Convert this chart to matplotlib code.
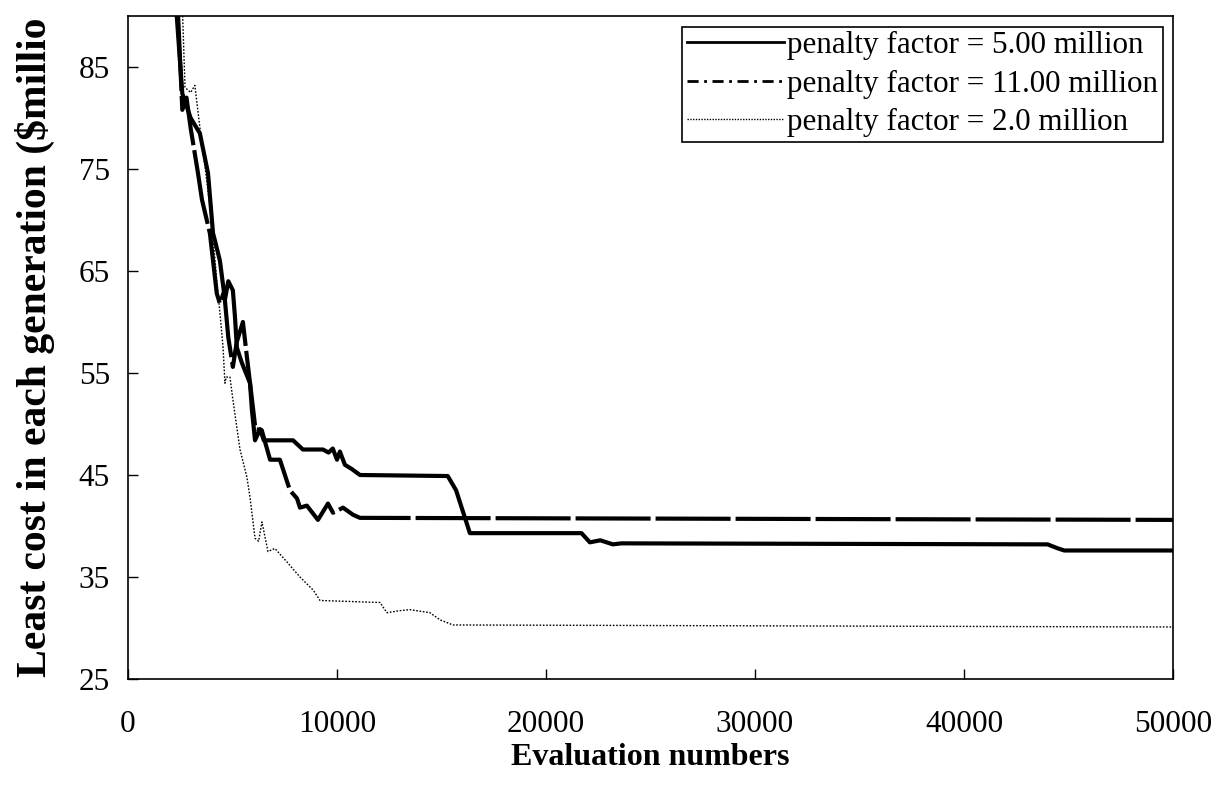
import matplotlib
matplotlib.use("Agg")
import matplotlib.pyplot as plt
from matplotlib.lines import Line2D

# 数据
x_5m = [2300, 2600, 3000, 3440, 3830, 4070, 4160, 4400, 4640, 4800, 5020, 5120, 5210, 5450,
        5840, 5930, 6080, 6320, 6500, 7900, 8370, 9330, 9600, 9800, 10000, 10140, 10380,
        10700, 11100, 15300, 15700, 16360, 17000, 21700, 22100, 22600, 23200, 23600,
        44000, 44500, 44800, 50000]
y_5m = [91, 82.4, 80, 78.5, 74.6, 68.7, 68, 66, 62.2, 64, 63.1, 60.5, 57.5, 56,
        54, 51.4, 48.4, 49.5, 48.4, 48.4, 47.5, 47.5, 47.2, 47.6, 46.5, 47.3, 46.0,
        45.6, 45.0, 44.9, 43.5, 39.3, 39.3, 39.3, 38.4, 38.6, 38.2, 38.3,
        38.2, 37.8, 37.6, 37.6]

x_11m = [2400, 2600, 2800, 3000, 3350, 3540, 3920, 4250, 4400, 4600, 4800, 5020, 5200,
         5500, 5690, 5900, 6100, 6400, 6800, 7270, 7750, 8090, 8230, 8560, 9090, 9570,
         9810, 10290, 10770, 11100, 50000]
y_11m = [90, 80.8, 82, 79, 74.6, 72, 68.7, 62.8, 61.8, 63, 58.5, 55.6, 58,
         60, 56.6, 53, 49.5, 49.4, 46.5, 46.5, 43.5, 42.7, 41.8, 42.0, 40.6, 42.2,
         41.3, 41.8, 41.1, 40.8, 40.6]

x_2m = [2600, 2730, 3000, 3200, 3440, 3700, 4000, 4260, 4400, 4550, 4640, 4700, 4880,
        5020, 5360, 5690, 5840, 6080, 6250, 6410, 6700, 7030, 7510, 8230, 8870, 9190,
        12060, 12390, 13000, 13490, 14450, 14930, 15550, 50000]
y_2m = [91, 83, 82.5, 83.2, 79.1, 75, 70, 63.8, 60.9, 57.5, 54.0, 54.6, 54.6,
        52.4, 47.5, 44.8, 42.8, 38.8, 38.5, 40.4, 37.5, 37.8, 36.7, 35.0, 33.7, 32.7,
        32.5, 31.5, 31.7, 31.8, 31.5, 30.8, 30.3, 30.1]

labels = ["penalty factor = 5.00 million",
          "penalty factor = 11.00 million",
          "penalty factor = 2.0 million"]
xticks = [0, 10000, 20000, 30000, 40000, 50000]
yticks = [25, 35, 45, 55, 65, 75, 85]

plt.rcParams['font.family'] = ['Liberation Serif', 'DejaVu Serif']

fig = plt.figure(figsize=(12.28, 7.88), dpi=100)
ax = fig.add_axes([0.1042, 0.1383, 0.851, 0.8414])

ax.plot(x_5m, y_5m, color='black', lw=3.0, solid_joinstyle='round')
ax.plot(x_11m, y_11m, color='black', lw=3.0, linestyle=(0, (18, 1.2)))
ax.plot(x_2m, y_2m, color='black', lw=1.0, linestyle=(0, (1.2, 1.2)))

ax.set_xlim(0, 50000)
ax.set_ylim(25, 90)
ax.set_xticks(xticks)
ax.set_yticks(yticks)
ax.tick_params(direction='in', length=7, width=1, labelsize=22.5)
ax.tick_params(axis='x', pad=22)
ax.tick_params(axis='y', pad=13)
for s in ax.spines.values():
    s.set_linewidth(1.2)

ax.set_xlabel('Evaluation numbers', fontsize=23, fontweight='bold', labelpad=3)
ax.set_ylabel(r'Least cost in each generation (\$millio', fontsize=30,
              fontweight='bold', labelpad=17)

# 图例
handles = [Line2D([], [], color='black', lw=2.0),
           Line2D([], [], color='black', lw=2.0, linestyle=(0, (4, 2, 1, 2))),
           Line2D([], [], color='black', lw=1.0, linestyle=(0, (1, 1)))]
leg = ax.legend(handles, labels, loc='upper right', bbox_to_anchor=(0.999, 0.998),
                fontsize=22.4, handlelength=3.12, handletextpad=0.1,
                labelspacing=0.3, borderpad=0.15, borderaxespad=0.3,
                fancybox=False, framealpha=1, edgecolor='black')
leg.get_frame().set_linewidth(1.2)

plt.savefig('out.png', dpi=100)
